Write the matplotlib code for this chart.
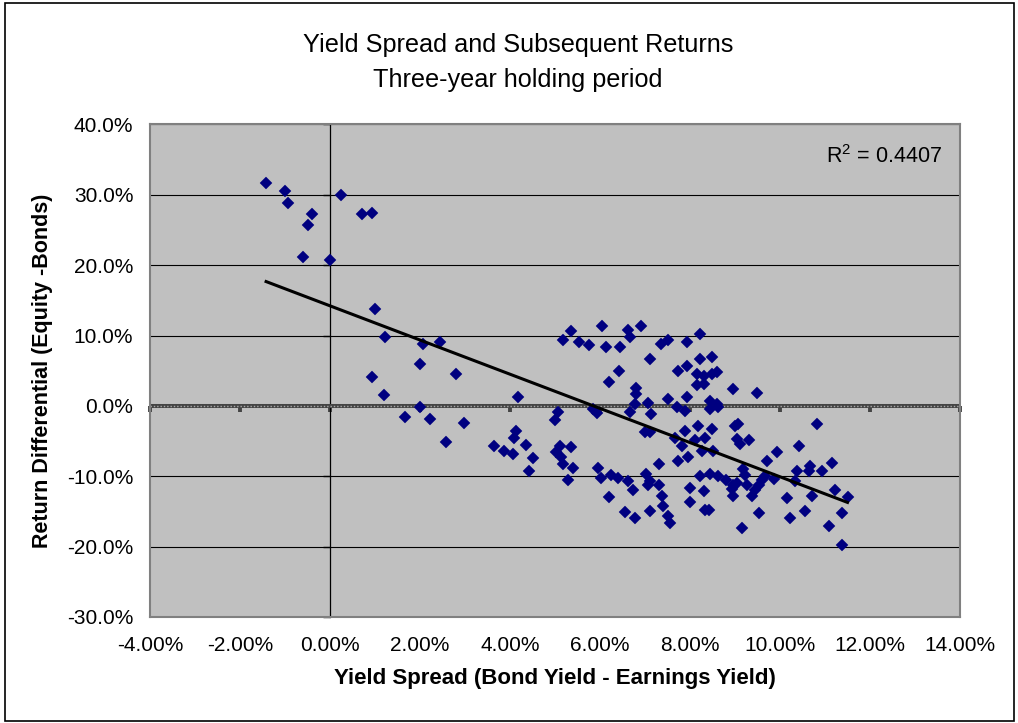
import matplotlib
matplotlib.use("Agg")
import matplotlib.pyplot as plt
import numpy as np
from matplotlib.ticker import FuncFormatter
from matplotlib.patches import Rectangle

plt.rcParams['font.family'] = ['Liberation Sans', 'DejaVu Sans']
plt.rcParams['mathtext.fontset'] = 'custom'
plt.rcParams['mathtext.rm'] = 'Liberation Sans'

# ---------------- data ----------------
title_line1 = "Yield Spread and Subsequent Returns"
title_line2 = "Three-year holding period"
x_label = "Yield Spread (Bond Yield - Earnings Yield)"
y_label = "Return Differential (Equity -Bonds)"
r2_text = "R$^2$ = 0.4407"

x_tick_values = [-4, -2, 0, 2, 4, 6, 8, 10, 12, 14]
y_tick_values = [-30, -20, -10, 0, 10, 20, 30, 40]

# yield spread (%)
spread_pct = [
    -1.42, -1.01, -0.93, -0.41, -0.49, -0.61, -0.01, 0.25, 0.70, 0.93,
    1.00, 1.23, 2.07, 2.44, 2.01, 0.93, 1.19, 2.01, 1.67, 2.22,
    2.79, 4.17, 2.97, 2.57, 3.64, 3.87, 4.06, 4.13, 4.08, 4.35, 4.50, 4.42,
    5.36, 6.04, 5.17, 5.54, 5.76, 6.13, 6.43, 6.21, 5.06, 4.99, 5.85, 5.93,
    5.10, 5.02, 5.13, 5.36, 5.17, 5.39, 5.28, 5.95, 6.02, 6.24, 6.39, 6.21,
    6.62, 6.92, 6.66, 6.45, 7.36, 7.51, 7.93, 8.22, 7.10, 8.22, 8.48, 7.74,
    7.93, 8.15, 8.30, 8.48, 8.59, 8.15, 8.30, 6.81, 6.81, 8.96, 7.51, 7.93,
    6.77, 7.07, 6.66, 7.14, 7.70, 7.89, 8.44, 8.59, 8.44, 8.62, 9.00, 9.06,
    6.99, 7.10, 7.89, 8.18, 8.48, 7.67, 8.33, 7.82, 8.11, 8.26, 7.96, 7.74,
    8.52, 7.30, 6.62, 6.73, 7.03, 7.10, 7.07, 7.30, 7.37, 7.41, 7.52, 7.56,
    6.55, 6.77, 7.10, 8.00, 8.00, 8.30, 8.33, 8.42, 8.22, 8.44, 8.63, 8.81,
    8.96, 8.93, 8.96,
    9.49, 10.82, 9.04, 9.10, 9.30, 10.42, 9.93, 9.71, 9.18, 9.22, 10.67, 10.64,
    10.93, 11.16, 10.38, 9.86, 9.67, 9.60, 9.53, 9.45, 9.38, 9.26, 9.04, 10.34,
    10.71, 10.16, 11.23, 11.50, 9.53, 10.23, 10.56, 11.38, 11.08, 9.16, 11.38,
]

# return differential (%)
return_diff_pct = [
    31.7, 30.5, 28.9, 27.2, 25.7, 21.2, 20.7, 30.0, 27.2, 27.4,
    13.8, 9.8, 8.8, 9.1, 6.0, 4.1, 1.5, -0.15, -1.6, -1.8,
    4.5, 1.2, -2.4, -5.2, -5.7, -6.4, -6.9, -3.5, -4.6, -5.5, -7.4, -9.3,
    10.7, 11.4, 9.3, 9.05, 8.6, 8.3, 5.0, 3.4, -0.8, -1.95, -0.5, -1.0,
    -5.75, -6.5, -7.2, -5.9, -8.3, -8.8, -10.5, -8.8, -10.25, -9.8, -10.25, -12.9,
    10.85, 11.3, 9.75, 8.3, 8.8, 9.3, 9.05, 10.2, 6.7, 6.7, 6.9, 5.0,
    5.7, 4.5, 4.3, 4.5, 4.8, 2.9, 3.1, 2.6, 1.7, 2.4, 1.0, 1.2,
    0.3, 0.4, -0.9, -1.15, -0.2, -0.7, 0.75, 0.3, -0.45, -0.2, -2.8, -2.6,
    -3.75, -3.75, -3.5, -2.8, -3.3, -4.5, -4.5, -5.65, -4.9, -6.4, -7.3, -7.8,
    -6.4, -8.3, -10.7, -11.9, -9.7, -10.7, -11.2, -11.3, -12.8, -14.2, -15.6, -16.7,
    -15.1, -16.0, -15.0, -11.7, -13.6, -12.1, -14.75, -14.75, -9.9, -9.7, -9.9, -10.5,
    -11.3, -11.8, -12.8,
    1.9, -2.6, -4.7, -5.4, -4.9, -5.7, -6.6, -7.8, -9.0, -9.8, -8.5, -9.3,
    -9.3, -8.1, -9.3, -10.4, -9.9, -10.6, -11.3, -11.9, -12.8, -11.3, -10.9, -10.7,
    -12.8, -13.1, -12.0, -13.0, -15.2, -15.9, -15.0, -15.2, -17.1, -17.4, -19.7,
]

# ---------------- figure ----------------
W, H = 1018, 723
fig = plt.figure(figsize=(W / 100, H / 100), dpi=100)
ax = fig.add_axes([150 / W, 1 - 617 / H, 810 / W, (617 - 124.4) / H])
ax.set_facecolor('#C0C0C0')
ax.set_xlim(x_tick_values[0], x_tick_values[-1])
ax.set_ylim(y_tick_values[0], y_tick_values[-1])

for s in ax.spines.values():
    s.set_color('#808080')
    s.set_linewidth(1.5)

ax.set_xticks(x_tick_values)
ax.set_yticks(y_tick_values)
ax.xaxis.set_major_formatter(FuncFormatter(lambda v, p: f'{v:.2f}%'))
ax.yaxis.set_major_formatter(FuncFormatter(lambda v, p: f'{v:.1f}%'))
ax.tick_params(axis='both', length=0, labelsize=15, colors='black')
ax.tick_params(axis='x', pad=14)
ax.tick_params(axis='y', pad=12)
ax.set_axisbelow(True)
ax.yaxis.grid(True, color='black', linewidth=0.8)
ax.xaxis.grid(False)

# zero line (x axis crossing at y = 0), patterned look
ax.axhline(0, color='#444444', lw=2.9, zorder=1.5)
ax.axhline(0, color='#a8a8a8', lw=1.0, ls=(0, (1, 1.4)), zorder=1.6)

ylo, yhi = ax.get_ylim()
xlo, xhi = ax.get_xlim()
sx = ax.secondary_xaxis((0 - ylo) / (yhi - ylo))
sx.set_xticks(x_tick_values, labels=[''] * len(x_tick_values))
sx.tick_params(direction='out', length=4.5, width=2.8, color='#444444')
for s in sx.spines.values():
    s.set_visible(False)

sy = ax.secondary_yaxis((0 - xlo) / (xhi - xlo))
sy.set_yticks(y_tick_values, labels=[''] * len(y_tick_values))
sy.tick_params(direction='out', length=5, width=1, color='black')
sy.spines['left'].set_color('black')
sy.spines['left'].set_linewidth(0.9)

# scatter
ax.plot(spread_pct, return_diff_pct, ls='none', marker='D', ms=5.9,
        color='#000080', mec='#000080', mew=0.3, zorder=3)

# linear trend line
xs = np.array(spread_pct)
ys = np.array(return_diff_pct)
coef = np.polyfit(xs, ys, 1)
xline = np.array([xs.min(), xs.max()])
ax.plot(xline, np.polyval(coef, xline), color='black', lw=2.2, zorder=4)

ax.text(0.978, 0.921, r2_text, transform=ax.transAxes, ha='right',
        va='baseline', fontsize=15.5)

ax.set_xlabel(x_label, fontsize=16, fontweight='bold', labelpad=9)
ax.set_ylabel(y_label, fontsize=15.5, fontweight='bold', labelpad=10)

fig.text(518 / W, 1 - 52 / H, title_line1, ha='center', va='baseline', fontsize=18.2)
fig.text(518 / W, 1 - 87 / H, title_line2, ha='center', va='baseline', fontsize=18.2)

fig.patches.append(Rectangle((5 / W, 2 / H), (1014 - 5) / W, (720 - 2) / H,
                             transform=fig.transFigure, fill=False,
                             ec='black', lw=1.2))

fig.savefig('out.png', dpi=100)
